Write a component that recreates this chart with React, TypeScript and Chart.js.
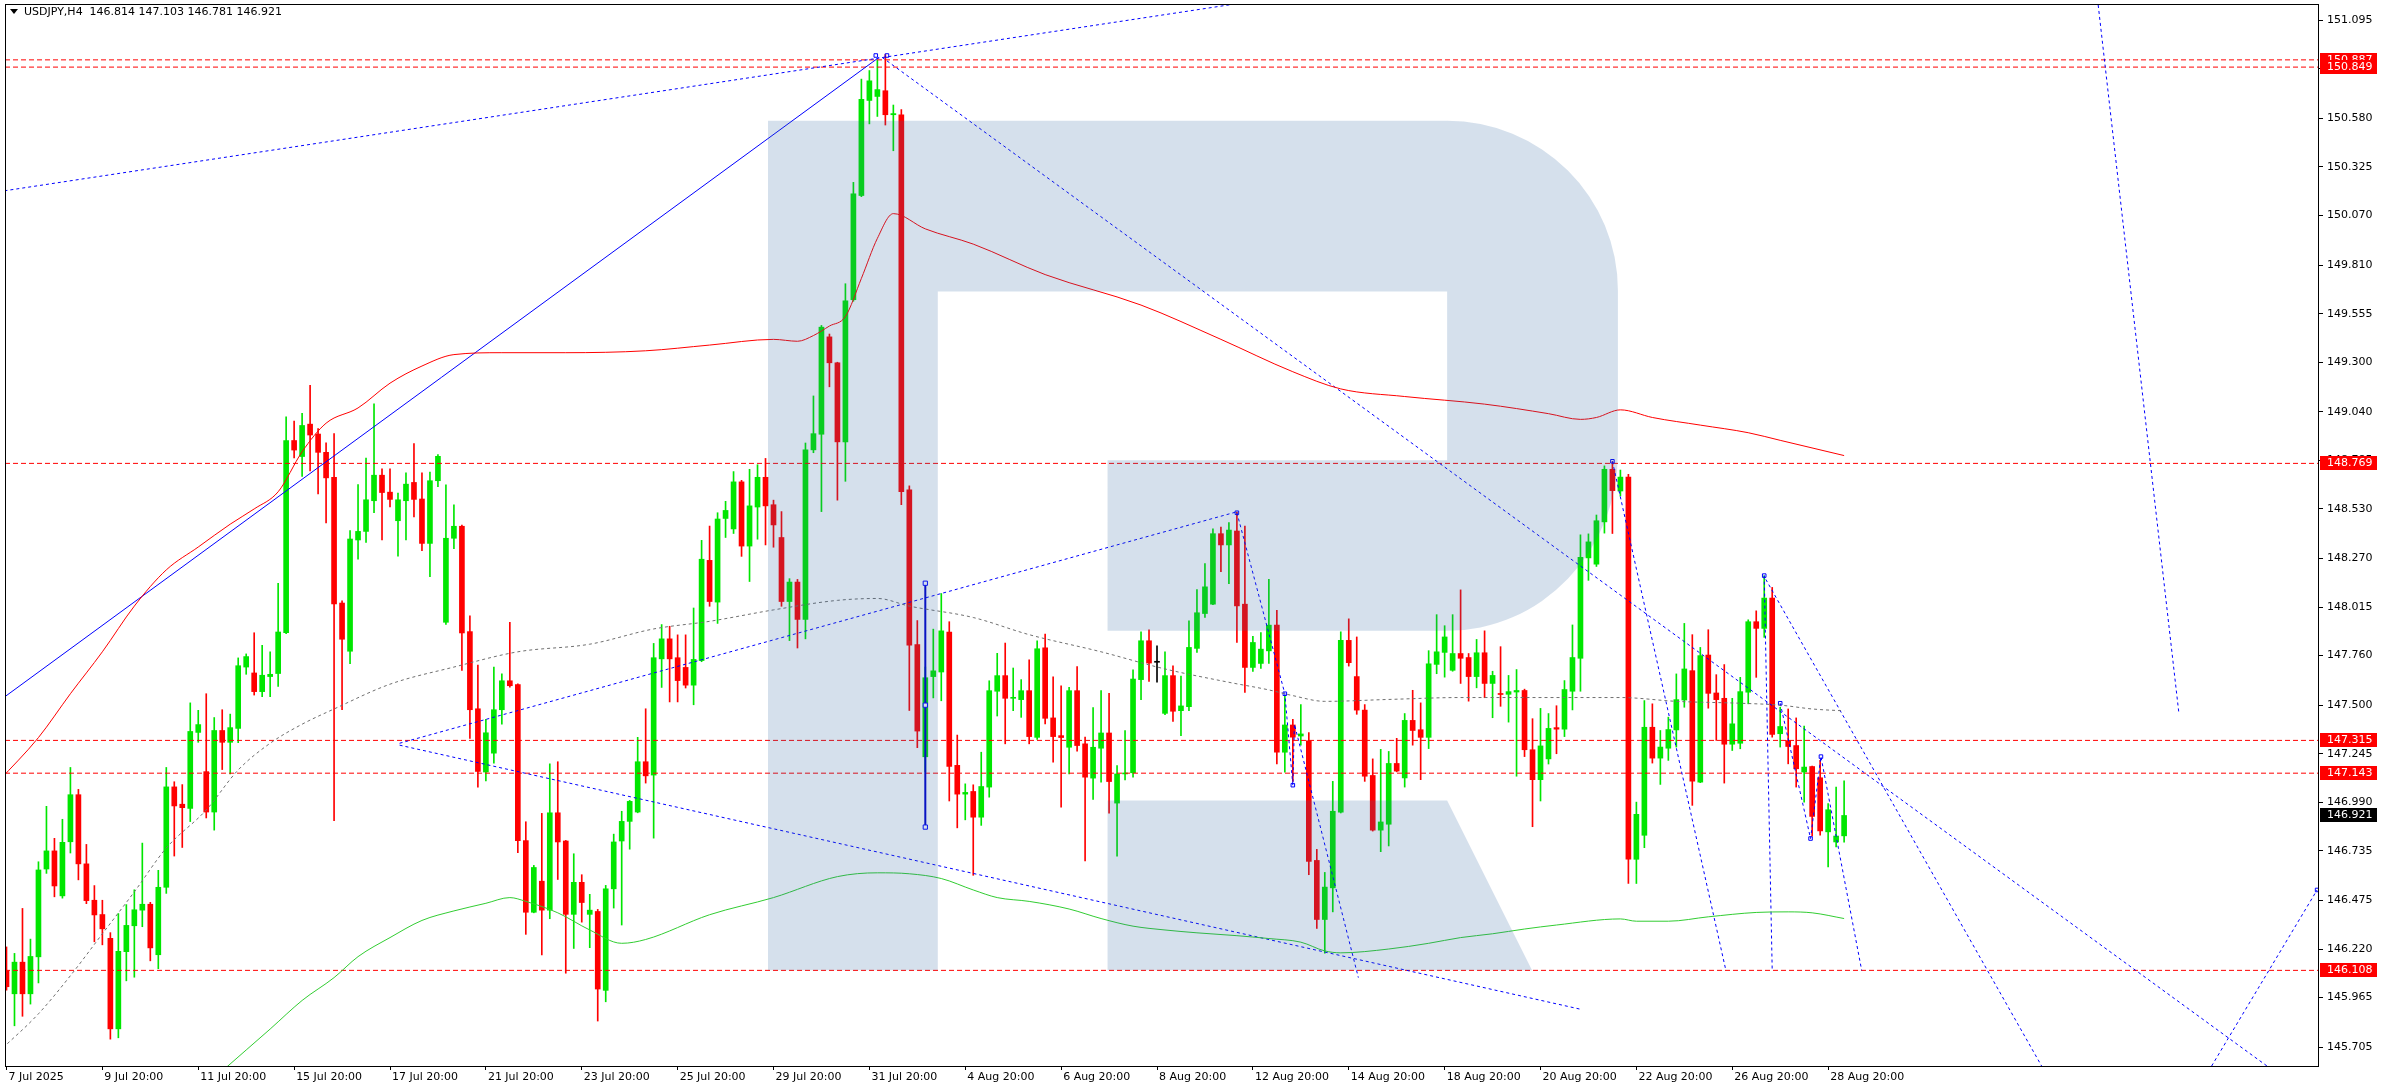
import React, { useEffect, useRef } from 'react';
import { Chart, registerables } from 'chart.js';

Chart.register(...registerables);

// ---------- DATA ----------
const symbol = 'USDJPY';
const timeframe = 'H4';

const opens = [
  146.106, 145.985, 146.151, 145.985, 146.179, 146.640, 146.735, 146.499, 146.783, 147.030,
  146.667, 146.476, 146.401, 146.276, 145.801, 146.206, 146.342, 146.424, 146.455, 146.190,
  146.544, 147.071, 146.980, 146.958, 147.357, 147.151, 146.939, 147.367, 147.305, 147.378,
  147.700, 147.669, 147.571, 147.650, 147.666, 147.880, 148.889, 148.805, 148.975, 148.923,
  148.827, 148.696, 148.036, 147.783, 148.367, 148.412, 148.573, 148.707, 148.618, 148.468,
  148.573, 148.669, 148.582, 148.349, 148.678, 147.935, 148.376, 148.439, 147.886, 147.481,
  147.149, 147.248, 147.476, 147.628, 147.608, 146.789, 146.413, 146.576, 146.424, 146.935,
  146.787, 146.402, 146.570, 146.402, 146.417, 146.003, 146.536, 146.787, 146.890, 146.939,
  147.203, 147.133, 147.743, 147.848, 147.749, 147.698, 147.605, 147.734, 148.260, 148.041,
  148.480, 148.425, 148.672, 148.335, 148.540, 148.696, 148.552, 148.380, 148.044, 148.146,
  147.950, 148.840, 148.922, 149.433, 149.297, 148.882, 149.628, 150.175, 150.674, 150.695,
  150.725, 150.599, 150.599, 148.630, 147.818, 147.229, 147.650, 147.674, 147.884, 147.184,
  147.033, 147.047, 146.912, 147.070, 147.573, 147.655, 147.536, 147.529, 147.576, 147.331,
  147.801, 147.433, 147.340, 147.279, 147.576, 147.297, 147.117, 147.274, 147.354, 146.986,
  147.139, 147.145, 147.634, 147.838, 147.725, 147.457, 147.655, 147.471, 147.492, 147.798,
  147.981, 148.030, 148.400, 148.341, 148.414, 148.030, 147.698, 147.719, 147.785, 147.920,
  147.253, 147.396, 147.338, 147.313, 146.685, 146.375, 146.541, 146.938, 147.840, 147.650,
  147.474, 147.131, 146.844, 146.875, 147.194, 147.118, 147.420, 147.371, 147.331, 147.714,
  147.777, 147.683, 147.771, 147.750, 147.650, 147.775, 147.614, 147.560, 147.557, 147.569,
  147.577, 147.266, 147.109, 147.218, 147.382, 147.374, 147.573, 147.746, 148.273, 148.240,
  148.462, 148.738, 148.624, 148.697, 146.691, 146.817, 147.384, 147.222, 147.274, 147.370,
  147.527, 147.681, 147.096, 147.763, 147.564, 147.536, 147.295, 147.300, 147.568, 147.938,
  147.903, 148.062, 147.350, 147.314, 147.288, 147.149, 147.178, 147.119, 146.835, 146.782,
  146.814,
];

const highs = [
  146.231, 146.197, 146.433, 146.272, 146.678, 146.969, 146.801, 146.901, 147.173, 147.058,
  146.769, 146.553, 146.476, 146.306, 146.406, 146.453, 146.531, 146.776, 146.465, 146.633,
  147.173, 147.098, 147.083, 147.512, 147.473, 147.560, 147.435, 147.476, 147.453, 147.748,
  147.769, 147.880, 147.814, 147.780, 148.139, 149.013, 148.991, 149.032, 149.179, 148.952,
  148.877, 148.925, 148.047, 148.416, 148.658, 148.797, 149.081, 148.741, 148.741, 148.613,
  148.719, 148.873, 148.719, 148.723, 148.815, 148.656, 148.551, 148.445, 147.969, 147.711,
  147.425, 147.700, 147.664, 147.935, 147.612, 146.888, 146.659, 146.932, 147.192, 147.203,
  146.790, 146.720, 146.610, 146.507, 146.428, 146.554, 146.823, 146.943, 147.000, 147.331,
  147.481, 147.824, 147.923, 147.914, 147.869, 147.869, 148.010, 148.365, 148.440, 148.510,
  148.570, 148.726, 148.680, 148.738, 148.762, 148.795, 148.576, 148.516, 148.164, 148.160,
  148.876, 149.123, 149.493, 149.448, 149.300, 149.712, 150.244, 150.786, 150.831, 150.887,
  150.915, 150.650, 150.626, 148.651, 147.944, 147.700, 147.899, 148.086, 147.938, 147.343,
  147.087, 147.082, 147.253, 147.628, 147.772, 147.826, 147.695, 147.634, 147.738, 147.838,
  147.873, 147.649, 147.602, 147.593, 147.703, 147.332, 147.487, 147.576, 147.562, 147.183,
  147.366, 147.686, 147.885, 147.895, 147.812, 147.780, 147.707, 147.653, 147.943, 148.107,
  148.243, 148.426, 148.435, 148.458, 148.514, 148.440, 147.861, 147.881, 148.161, 147.998,
  147.550, 147.425, 147.503, 147.356, 146.743, 146.622, 147.100, 147.885, 147.953, 147.858,
  147.503, 147.218, 147.268, 147.257, 147.326, 147.456, 147.578, 147.512, 147.786, 147.975,
  147.917, 147.975, 148.105, 147.771, 147.845, 147.890, 147.678, 147.807, 147.656, 147.687,
  147.584, 147.429, 147.483, 147.456, 147.497, 147.629, 147.921, 148.394, 148.399, 148.498,
  148.756, 148.778, 148.734, 148.711, 146.991, 147.524, 147.507, 147.367, 147.437, 147.664,
  147.929, 147.870, 147.803, 147.896, 147.660, 147.713, 147.536, 147.646, 147.948, 147.995,
  148.179, 148.118, 147.489, 147.480, 147.433, 147.390, 147.180, 147.210, 146.983, 147.070,
  147.103,
];

const lows = [
  146.004, 145.817, 145.867, 145.931, 146.042, 146.617, 146.494, 146.487, 146.724, 146.583,
  146.458, 146.258, 146.242, 145.747, 145.754, 146.053, 146.072, 146.337, 146.158, 146.117,
  146.512, 146.708, 146.753, 146.889, 147.305, 146.908, 146.844, 147.162, 147.139, 147.303,
  147.662, 147.553, 147.544, 147.544, 147.598, 147.875, 148.798, 148.700, 148.730, 148.609,
  148.457, 146.894, 147.476, 147.718, 148.266, 148.354, 148.510, 148.367, 148.540, 148.282,
  148.367, 148.488, 148.311, 148.175, 148.647, 147.924, 148.322, 147.682, 147.326, 147.069,
  147.102, 147.196, 147.400, 147.595, 146.726, 146.297, 146.410, 146.189, 146.379, 146.585,
  146.093, 146.223, 146.361, 146.227, 145.842, 145.943, 146.435, 146.346, 146.744, 146.935,
  147.091, 146.802, 147.593, 147.517, 147.517, 147.590, 147.502, 147.728, 148.019, 147.929,
  148.380, 148.401, 148.281, 148.149, 148.371, 148.341, 148.329, 148.019, 147.839, 147.800,
  147.848, 148.825, 148.516, 149.171, 148.576, 148.675, 149.620, 150.169, 150.551, 150.590,
  150.545, 150.410, 148.552, 147.472, 147.277, 147.150, 147.538, 147.523, 146.997, 146.856,
  146.898, 146.607, 146.869, 147.017, 147.443, 147.297, 147.471, 147.436, 147.297, 147.320,
  147.401, 147.201, 146.965, 147.139, 147.258, 146.682, 147.005, 147.096, 146.933, 146.708,
  147.108, 147.122, 147.529, 147.625, 147.620, 147.450, 147.415, 147.340, 147.471, 147.777,
  147.960, 148.027, 148.201, 148.138, 147.829, 147.567, 147.677, 147.693, 147.719, 147.192,
  147.148, 147.100, 147.290, 146.610, 146.328, 146.198, 146.415, 146.934, 147.705, 147.452,
  147.100, 146.839, 146.731, 146.761, 147.150, 147.070, 147.290, 147.109, 147.272, 147.665,
  147.647, 147.678, 147.614, 147.521, 147.591, 147.539, 147.434, 147.494, 147.411, 147.127,
  147.230, 146.862, 146.997, 147.191, 147.245, 147.335, 147.475, 147.573, 148.155, 148.228,
  148.403, 148.401, 148.598, 146.564, 146.564, 146.752, 147.196, 147.084, 147.210, 147.280,
  147.489, 146.974, 147.093, 147.484, 147.315, 147.091, 147.262, 147.271, 147.507, 147.646,
  147.856, 147.332, 147.280, 147.192, 147.070, 146.991, 146.812, 146.817, 146.651, 146.756,
  146.781,
];

const closes = [
  146.022, 146.151, 145.985, 146.181, 146.635, 146.735, 146.551, 146.780, 147.030, 146.667,
  146.474, 146.399, 146.326, 145.801, 146.208, 146.344, 146.426, 146.455, 146.226, 146.544,
  147.071, 146.971, 146.962, 147.362, 147.398, 146.939, 147.367, 147.305, 147.382, 147.707,
  147.755, 147.571, 147.657, 147.662, 147.884, 148.889, 148.839, 148.968, 148.918, 148.827,
  148.693, 148.031, 147.846, 148.372, 148.412, 148.578, 148.707, 148.616, 148.580, 148.578,
  148.660, 148.580, 148.349, 148.678, 148.806, 148.376, 148.439, 147.879, 147.476, 147.152,
  147.355, 147.476, 147.628, 147.602, 146.789, 146.413, 146.648, 146.424, 146.935, 146.782,
  146.402, 146.570, 146.464, 146.424, 146.010, 146.536, 146.782, 146.890, 146.995, 147.203,
  147.129, 147.749, 147.848, 147.743, 147.629, 147.605, 147.740, 148.266, 148.044, 148.477,
  148.522, 148.672, 148.335, 148.546, 148.696, 148.546, 148.446, 148.044, 148.146, 147.950,
  148.840, 148.925, 149.484, 149.297, 148.882, 149.622, 150.184, 150.680, 150.777, 150.731,
  150.599, 150.605, 148.621, 147.815, 147.364, 147.644, 147.680, 147.890, 147.178, 147.033,
  147.042, 146.912, 147.073, 147.576, 147.655, 147.536, 147.540, 147.576, 147.335, 147.796,
  147.431, 147.335, 147.330, 147.576, 147.288, 147.122, 147.279, 147.354, 147.099, 147.139,
  147.143, 147.637, 147.838, 147.721, 147.725, 147.655, 147.468, 147.496, 147.803, 147.985,
  148.121, 148.400, 148.341, 148.419, 148.021, 147.698, 147.829, 147.794, 147.920, 147.253,
  147.396, 147.332, 147.349, 146.680, 146.375, 146.545, 146.943, 147.840, 147.723, 147.474,
  147.127, 146.844, 146.887, 147.194, 147.154, 147.420, 147.367, 147.331, 147.717, 147.780,
  147.858, 147.771, 147.746, 147.650, 147.775, 147.614, 147.656, 147.556, 147.571, 147.577,
  147.266, 147.109, 147.286, 147.378, 147.374, 147.582, 147.750, 148.276, 148.357, 148.468,
  148.738, 148.626, 148.697, 146.691, 146.927, 147.384, 147.222, 147.280, 147.372, 147.529,
  147.690, 147.101, 147.760, 147.562, 147.529, 147.295, 147.402, 147.571, 147.938, 147.903,
  148.062, 147.346, 147.388, 147.283, 147.166, 147.175, 146.916, 146.840, 146.951, 146.813,
  146.921,
];

// Time axis labels (bar index -> label)
const xTickBars = [0, 12, 24, 36, 48, 60, 72, 84, 96, 108, 120, 132, 144, 156, 168, 180, 192, 204, 216, 228];
const xTickLabels = [
  '7 Jul 2025', '9 Jul 20:00', '11 Jul 20:00', '15 Jul 20:00', '17 Jul 20:00', '21 Jul 20:00',
  '23 Jul 20:00', '25 Jul 20:00', '29 Jul 20:00', '31 Jul 20:00', '4 Aug 20:00', '6 Aug 20:00',
  '8 Aug 20:00', '12 Aug 20:00', '14 Aug 20:00', '18 Aug 20:00', '20 Aug 20:00', '22 Aug 20:00',
  '26 Aug 20:00', '28 Aug 20:00',
];

// Price axis ticks
const yTickValues = [
  151.095, 150.840, 150.580, 150.325, 150.070, 149.810, 149.555, 149.300, 149.040, 148.785,
  148.530, 148.270, 148.015, 147.760, 147.500, 147.245, 146.990, 146.735, 146.475, 146.220,
  145.965, 145.705,
];

// Horizontal levels (red dashed)
const levels = [150.887, 150.849, 148.769, 147.315, 147.143, 146.108];

// Moving averages: [bar, price]
const maRed: number[][] = [
  [-1, 147.10], [4, 147.33], [8, 147.56], [12, 147.78], [16, 148.02], [20, 148.21], [24, 148.33],
  [28, 148.45], [31, 148.53], [34, 148.62], [37, 148.83], [40, 148.98], [44, 149.06], [48, 149.19],
  [52, 149.28], [56, 149.34], [62, 149.35], [70, 149.35], [80, 149.36], [88, 149.39], [96, 149.42],
  [99, 149.41], [101, 149.44], [103, 149.49], [105, 149.54], [107, 149.74], [109, 149.95],
  [111, 150.08], [115, 150.00], [121, 149.92], [130, 149.76], [142, 149.60], [152, 149.42],
  [161, 149.25], [167, 149.16], [175, 149.12], [185, 149.08], [193, 149.03], [197, 149.00],
  [199, 149.01], [202, 149.05], [206, 149.01], [212, 148.97], [218, 148.93], [222, 148.89],
  [230, 148.81],
];

const maGray: number[][] = [
  [-1, 145.68], [4, 145.88], [8, 146.08], [12, 146.30], [16, 146.52], [20, 146.75], [25, 146.95],
  [29, 147.16], [33, 147.30], [37, 147.40], [41, 147.48], [48, 147.61], [56, 147.70], [64, 147.78],
  [73, 147.82], [81, 147.90], [88, 147.94], [96, 148.00], [104, 148.05], [109, 148.06],
  [113, 148.02], [121, 147.96], [128, 147.87], [137, 147.78], [145, 147.69], [153, 147.62],
  [158, 147.58], [161, 147.55], [165, 147.52], [173, 147.53], [182, 147.54], [190, 147.54],
  [202, 147.54], [209, 147.52], [217, 147.51], [222, 147.50], [226, 147.48], [230, 147.47],
];

const maGreen: number[][] = [
  [27, 145.58], [30, 145.69], [33, 145.80], [37, 145.95], [41, 146.07], [44, 146.18], [48, 146.28],
  [52, 146.37], [56, 146.42], [60, 146.46], [63, 146.49], [65, 146.47], [69, 146.41], [73, 146.32],
  [77, 146.25], [80, 146.27], [88, 146.40], [96, 146.49], [104, 146.60], [109, 146.62],
  [113, 146.615], [117, 146.59], [121, 146.53], [124, 146.49], [128, 146.47], [133, 146.43],
  [137, 146.38], [141, 146.34], [145, 146.32], [149, 146.305], [154, 146.29], [158, 146.275],
  [162, 146.256], [165, 146.21], [167, 146.20], [173, 146.22], [178, 146.25], [182, 146.28],
  [186, 146.30], [190, 146.325], [194, 146.346], [202, 146.378], [204, 146.366], [208, 146.366],
  [213, 146.389], [219, 146.412], [223, 146.415], [226, 146.41], [230, 146.38],
];

// Blue trend lines: [bar, price] vertices
const trendSolid: number[][] = [[-1, 147.52], [109.2, 150.90]];
const trendVertical: number[][] = [[115, 148.14], [115, 147.50], [115, 146.86]];
const trendDotted: number[][][] = [
  [[-1, 150.195], [160, 151.22]],
  [[109.6, 150.90], [290, 145.39]],
  [[49.2, 147.30], [154, 148.515]],
  [[49.2, 147.29], [196.9, 145.905]],
  [[154, 148.51], [160, 147.56], [161, 147.08], [161.2, 147.40], [169.2, 146.07]],
  [[201, 148.78], [215.2, 146.108]],
  [[220, 148.18], [221, 146.108]],
  [[220.2, 148.16], [254.8, 145.60]],
  [[222, 147.51], [225.8, 146.80], [227.1, 147.23], [232.2, 146.108]],
  [[261.8, 151.175], [271.9, 147.458]],
  [[276, 145.606], [289.2, 146.53]],
];
const anchorPoints: number[][] = [
  [108.8, 150.91], [110.2, 150.91], [154, 148.51], [160, 147.56], [161, 147.08], [201, 148.78],
  [220, 148.18], [222, 147.51], [225.8, 146.80], [227.1, 147.23], [289.2, 146.53],
];

// ---------- STYLE ----------
const BULL = '#00e600';
const BEAR = '#ff0000';
const FONT = '"DejaVu Sans", Verdana, sans-serif';
const X_MIN = -0.1875;
const X_MAX = X_MIN + 2317 / 8;
const Y_MIN = 145.606;
const Y_MAX = 151.175;

const candleColor = (i: number) =>
  closes[i] > opens[i] ? BULL : closes[i] < opens[i] ? BEAR : '#000000';

const toPts = (arr: number[][]) => arr.map(([x, y]) => ({ x, y }));

const overlayPlugin = {
  id: 'mtOverlay',
  beforeDraw(chart: any) {
    const { ctx, width, height } = chart;
    ctx.save();
    ctx.fillStyle = '#ffffff';
    ctx.fillRect(0, 0, width, height);
    ctx.restore();
  },
  afterDatasetsDraw(chart: any) {
    const { ctx, chartArea: ca } = chart;
    const sx = (x: number) => ca.left + ((x - 2) * (ca.right - ca.left)) / 2317;
    const sy = (y: number) => ca.top + ((y - 3) * (ca.bottom - ca.top)) / 1063;
    const kx = (ca.right - ca.left) / 2317;
    const ky = (ca.bottom - ca.top) / 1063;
    ctx.save();
    ctx.beginPath();
    ctx.rect(ca.left, ca.top, ca.right - ca.left, ca.bottom - ca.top);
    ctx.clip();
    // watermark logo
    ctx.fillStyle = 'rgba(45,100,160,0.2)';
    ctx.beginPath();
    ctx.moveTo(sx(766), sy(119));
    ctx.lineTo(sx(1446), sy(119));
    ctx.ellipse(sx(1446), sy(289), 171 * kx, 170 * ky, 0, -Math.PI / 2, 0);
    ctx.lineTo(sx(1617), sy(452));
    ctx.ellipse(sx(1446), sy(452), 171 * kx, 178 * ky, 0, 0, Math.PI / 2);
    ctx.lineTo(sx(1106), sy(630));
    ctx.lineTo(sx(1106), sy(459));
    ctx.lineTo(sx(1446), sy(459));
    ctx.lineTo(sx(1446), sy(290));
    ctx.lineTo(sx(936), sy(290));
    ctx.lineTo(sx(936), sy(970));
    ctx.lineTo(sx(766), sy(970));
    ctx.closePath();
    ctx.fill();
    ctx.beginPath();
    ctx.moveTo(sx(1106), sy(800));
    ctx.lineTo(sx(1446), sy(800));
    ctx.lineTo(sx(1531), sy(970));
    ctx.lineTo(sx(1106), sy(970));
    ctx.closePath();
    ctx.fill();
    ctx.restore();

    // frame
    ctx.save();
    ctx.strokeStyle = '#000000';
    ctx.lineWidth = 1;
    ctx.strokeRect(ca.left + 0.5, ca.top - 0.5, ca.right - ca.left - 1, ca.bottom - ca.top + 1);
    ctx.restore();
  },
  afterDraw(chart: any) {
    const { ctx, chartArea: ca } = chart;
    const yScale = chart.scales.y;
    ctx.save();
    ctx.font = `11px ${FONT}`;
    ctx.textBaseline = 'middle';
    ctx.textAlign = 'left';
    const box = (val: number, color: string) => {
      const y = Math.round(yScale.getPixelForValue(val));
      ctx.fillStyle = color;
      ctx.fillRect(yScale.left + 1, y - 7, 57, 14);
      ctx.fillStyle = '#ffffff';
      ctx.fillText(val.toFixed(3), yScale.left + 8, y + 0.5);
    };
    levels.forEach((v) => box(v, '#ff0000'));
    box(closes[closes.length - 1], '#000000');

    // header
    const n = opens.length - 1;
    ctx.fillStyle = '#000000';
    ctx.beginPath();
    ctx.moveTo(ca.left + 5, 9);
    ctx.lineTo(ca.left + 13, 9);
    ctx.lineTo(ca.left + 9, 14);
    ctx.closePath();
    ctx.fill();
    ctx.fillText(
      `${symbol},${timeframe}  ${opens[n].toFixed(3)} ${highs[n].toFixed(3)} ${lows[n].toFixed(3)} ${closes[n].toFixed(3)}`,
      ca.left + 19,
      12.5
    );
    ctx.restore();
  },
};

export default function App() {
  const ref = useRef<HTMLCanvasElement | null>(null);

  useEffect(() => {
    if (!ref.current) return;
    const idx = opens.map((_, i) => i);
    const colors = idx.map(candleColor);

    const lineBase = {
      type: 'line' as const,
      pointRadius: 0,
      borderWidth: 1,
      fill: false,
      tension: 0,
      order: 0,
    };

    const datasets: any[] = [
      {
        type: 'bar',
        data: idx.map((i) => ({ x: i, y: [lows[i], highs[i]] })),
        backgroundColor: colors,
        borderWidth: 0,
        barThickness: 1,
        grouped: false,
        order: 5,
      },
      {
        type: 'bar',
        data: idx.map((i) => ({ x: i, y: [opens[i], closes[i]] })),
        backgroundColor: colors,
        borderWidth: 0,
        barThickness: 5,
        minBarLength: 1,
        grouped: false,
        order: 4,
      },
      ...levels.map((v) => ({
        ...lineBase,
        data: [{ x: X_MIN - 1, y: v }, { x: X_MAX + 1, y: v }],
        borderColor: '#ff0000',
        borderDash: [5, 3],
        order: 3,
      })),
      {
        ...lineBase,
        data: toPts(maRed),
        borderColor: '#ff0000',
        cubicInterpolationMode: 'monotone',
      },
      {
        ...lineBase,
        data: toPts(maGray),
        borderColor: '#707070',
        borderDash: [3, 3],
        cubicInterpolationMode: 'monotone',
      },
      {
        ...lineBase,
        data: toPts(maGreen),
        borderColor: '#32cd32',
        cubicInterpolationMode: 'monotone',
      },
      {
        ...lineBase,
        data: toPts(trendSolid),
        borderColor: '#0000ff',
      },
      ...trendDotted.map((t) => ({
        ...lineBase,
        data: toPts(t),
        borderColor: '#0000ff',
        borderDash: [3, 3],
      })),
      {
        ...lineBase,
        data: toPts(trendVertical),
        borderColor: '#0000cc',
        borderWidth: 2,
        pointRadius: 3,
        pointStyle: 'rect',
        pointBackgroundColor: '#ffffff',
        pointBorderColor: '#0000ff',
        pointBorderWidth: 1,
      },
      {
        ...lineBase,
        data: toPts(anchorPoints),
        showLine: false,
        pointRadius: 2.5,
        pointStyle: 'rect',
        pointBackgroundColor: 'rgba(255,255,255,0)',
        pointBorderColor: '#0000ff',
        pointBorderWidth: 1,
      },
    ];

    const chart = new Chart(ref.current, {
      type: 'bar',
      data: { datasets },
      options: {
        animation: false,
        responsive: false,
        maintainAspectRatio: false,
        events: [],
        layout: { padding: { left: 2, top: 3, right: 0, bottom: 0 } },
        plugins: { legend: { display: false }, tooltip: { enabled: false } },
        scales: {
          x: {
            type: 'linear',
            min: X_MIN,
            max: X_MAX,
            offset: false,
            grid: {
              display: true,
              drawOnChartArea: false,
              drawTicks: true,
              tickLength: 4,
              color: '#000000',
              offset: false,
            },
            border: { display: false },
            afterBuildTicks: (s: any) => {
              s.ticks = xTickBars.map((v) => ({ value: v }));
            },
            afterFit: (s: any) => {
              s.height = 24;
              s.paddingLeft = 0;
              s.paddingRight = 0;
            },
            ticks: {
              autoSkip: false,
              maxRotation: 0,
              minRotation: 0,
              align: 'start',
              labelOffset: 2,
              padding: 1,
              color: '#000000',
              font: { family: FONT, size: 11 },
              callback: (v: any) => {
                const k = xTickBars.indexOf(Number(v));
                return k >= 0 ? xTickLabels[k] : '';
              },
            },
          },
          y: {
            type: 'linear',
            position: 'right',
            min: Y_MIN,
            max: Y_MAX,
            beginAtZero: false,
            grid: {
              display: true,
              drawOnChartArea: false,
              drawTicks: true,
              tickLength: 4,
              color: '#000000',
            },
            border: { display: false },
            afterBuildTicks: (s: any) => {
              s.ticks = yTickValues.map((v) => ({ value: v }));
            },
            afterFit: (s: any) => {
              s.width = 64;
              s.paddingTop = 0;
              s.paddingBottom = 0;
            },
            ticks: {
              padding: 4,
              color: '#000000',
              font: { family: FONT, size: 11 },
              callback: (v: any) => Number(v).toFixed(3),
            },
          },
        },
      } as any,
      plugins: [overlayPlugin],
    });

    return () => chart.destroy();
  }, []);

  return (
    <div style={{ position: 'absolute', left: 0, top: 0, width: 2383, height: 1090, background: '#fff' }}>
      <canvas ref={ref} width={2383} height={1090} style={{ display: 'block' }} />
    </div>
  );
}
